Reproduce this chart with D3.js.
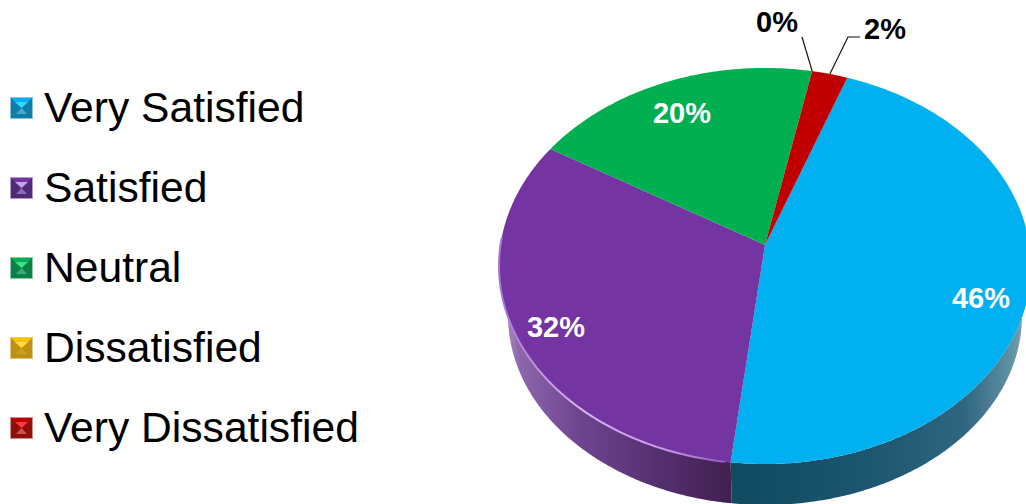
<!DOCTYPE html>
<html>
<head>
<meta charset="utf-8">
<script src="https://cdn.jsdelivr.net/npm/d3@7"></script>
<style>
  html, body { margin: 0; padding: 0; background: #fff; overflow: hidden; }
  text { font-family: "Liberation Sans", Arial, sans-serif; }
</style>
</head>
<body>
<div id="chart"></div>
<script>
// DATA
const categories = ["Very Satisfied", "Satisfied", "Neutral", "Dissatisfied", "Very Dissatisfied"];
const shares = [46.3, 31.8, 19.5, 0, 2.4];
const shareLabels = ["46%", "32%", "20%", "0%", "2%"];

// COLORS: face, then the bevel tones of the legend marker
const faceColors = ["#00b0f0", "#7434a2", "#00b050", "#ffc000", "#c00000"];
const markerTop = ["#2fdcff", "#c9a0ee", "#3fe08a", "#ffe033", "#ff3a3a"];
const markerSide = ["#0f7ea6", "#4f2a78", "#0b8048", "#c09010", "#8f0f0f"];
const markerBottom = ["#4aa8c8", "#8f6ab0", "#3fa878", "#c8a030", "#d05050"];
const markerEdge = ["#8fc4d8", "#b39cc8", "#8fcaa8", "#d8c890", "#d09090"];

// LAYOUT
const width = 1026, height = 504;
const labelPos = [[981, 298], [556, 327], [682, 113], [777, 22], [885, 29]];
const labelColors = ["#fff", "#fff", "#fff", "#000", "#000"];

// top face projection: a tilted circle seen in perspective
const apex = { x: 765, y: 245 };
const persp = -0.106, radX = 264.5, radY = 195.8;
// the underside of the pie is further away, so a bit smaller and lower
const wallShrink = 9, wallDrop = 51;

function project(angle, r = 1, shrink = 0, drop = 0) {
    const u = Math.sin(angle) * r;
    const v = -Math.cos(angle) * r;
    const w = 1 + persp * v;
    return [
        apex.x + (radX - shrink) * u / w,
        apex.y + drop + (radY - shrink) * v / w
    ];
}

const svg = d3.select("#chart")
    .append("svg")
    .attr("width", width)
    .attr("height", height);

// PIE ANGLES
const startAngle = 20 * Math.PI / 180;
const arcs = d3.pie().sort(null)
    .startAngle(startAngle)
    .endAngle(startAngle + 2 * Math.PI)(shares);

const line = d3.line();
const sampleAngles = (a0, a1) => {
    const n = Math.max(2, Math.ceil((a1 - a0) / 0.01));
    return d3.range(n + 1).map(i => a0 + (a1 - a0) * i / n);
};

// GRADIENTS for the side wall
const defs = svg.append("defs");
function wallGradient(id, stops) {
    const g = defs.append("linearGradient").attr("id", id)
        .attr("gradientUnits", "userSpaceOnUse")
        .attr("x1", 499).attr("x2", 1026).attr("y1", 0).attr("y2", 0);
    stops.forEach(s => g.append("stop").attr("offset", s[0]).attr("stop-color", s[1]));
}
wallGradient("wall-purple", [[0, "#b79ac9"], [0.04, "#8d66aa"], [0.15, "#6f4590"], [0.3, "#553070"], [0.44, "#41204f"]]);
wallGradient("wall-blue", [[0.44, "#0f4a60"], [0.7, "#1c566f"], [0.88, "#2f6580"], [0.97, "#5f8fa3"], [1, "#7aa6b8"]]);

// 1: SIDE WALL (front half only)
const wallFill = ["url(#wall-blue)", "url(#wall-purple)"];
arcs.slice(0, 2).forEach((d, i) => {
    const a0 = Math.max(d.startAngle, Math.PI / 2);
    const a1 = Math.min(d.endAngle, 3 * Math.PI / 2);
    const top = sampleAngles(a0, a1).map(a => project(a));
    const bottom = sampleAngles(a0, a1).reverse().map(a => project(a, 1, wallShrink, wallDrop));
    svg.append("path")
        .attr("d", line(top.concat(bottom)) + "Z")
        .attr("fill", wallFill[i]);
});

// 2: TOP FACE
arcs.forEach((d, i) => {
    if (d.value === 0) return;
    const edge = sampleAngles(d.startAngle, d.endAngle).map(a => project(a));
    svg.append("path")
        .attr("d", line([[apex.x, apex.y]].concat(edge)) + "Z")
        .attr("fill", faceColors[i]);
});

// 3: RIM HIGHLIGHT on the purple edge
const purple = arcs[1];
const rimGrad = defs.append("linearGradient").attr("id", "rim")
    .attr("gradientUnits", "userSpaceOnUse")
    .attr("x1", 499).attr("x2", 735).attr("y1", 0).attr("y2", 0);
[[0, "#a878d0"], [0.35, "#d9b3f2"], [0.7, "#c99ae8"], [1, "#8a50b8"]]
    .forEach(s => rimGrad.append("stop").attr("offset", s[0]).attr("stop-color", s[1]));
svg.append("path")
    .attr("d", line(sampleAngles(purple.startAngle + 0.02, Math.min(purple.endAngle, 4.75)).map(a => project(a))))
    .attr("fill", "none")
    .attr("stroke", "url(#rim)")
    .attr("stroke-width", 2);

// 4: LEADER LINES
svg.append("path")
    .attr("d", line([project(arcs[3].startAngle), [802, 37]]))
    .attr("fill", "none").attr("stroke", "#111").attr("stroke-width", 1.2);
svg.append("path")
    .attr("d", line([project((arcs[4].startAngle + arcs[4].endAngle) / 2), [848, 37], [860, 37]]))
    .attr("fill", "none").attr("stroke", "#111").attr("stroke-width", 1.2);

// 5: SLICE LABELS
svg.selectAll(".slice-label")
    .data(shareLabels)
    .enter()
    .append("text")
    .attr("class", "slice-label")
    .attr("x", (d, i) => labelPos[i][0])
    .attr("y", (d, i) => labelPos[i][1])
    .attr("dy", "0.36em")
    .attr("text-anchor", "middle")
    .style("font-size", "29px")
    .style("font-weight", "bold")
    .attr("fill", (d, i) => labelColors[i])
    .text(d => d);

// 6: LEGEND
const legendY = d3.scalePoint().domain(categories).range([108, 428]);
const legend = svg.selectAll(".legend")
    .data(categories)
    .enter()
    .append("g")
    .attr("class", "legend")
    .attr("transform", d => `translate(10, ${legendY(d)})`);

const s = 23;
legend.append("rect")
    .attr("x", 0).attr("y", -11).attr("width", s).attr("height", 22)
    .attr("fill", (d, i) => markerEdge[i]);
legend.append("rect")
    .attr("x", 1).attr("y", -10).attr("width", s - 2).attr("height", 20)
    .attr("fill", (d, i) => markerSide[i]);
// bevel: saturated top fading to a bright centre, lit then dark lower band
legend.append("path")
    .attr("d", `M1,-10L${s - 1},-10L${s / 2},0Z`)
    .attr("fill", (d, i) => faceColors[i]);
legend.append("path")
    .attr("d", `M5,-6L${s - 5},-6L${s / 2},0Z`)
    .attr("fill", (d, i) => markerTop[i]);
legend.append("path")
    .attr("d", `M${s / 2},0L${s - 1},10L1,10Z`)
    .attr("fill", (d, i) => markerSide[i]);
legend.append("path")
    .attr("d", `M${s / 2},0L${s - 6},6L6,6Z`)
    .attr("fill", (d, i) => markerBottom[i]);
legend.append("text")
    .attr("x", 34)
    .attr("dy", "0.34em")
    .style("font-size", "42.6px")
    .attr("fill", "#000")
    .text(d => d);
</script>
</body>
</html>
